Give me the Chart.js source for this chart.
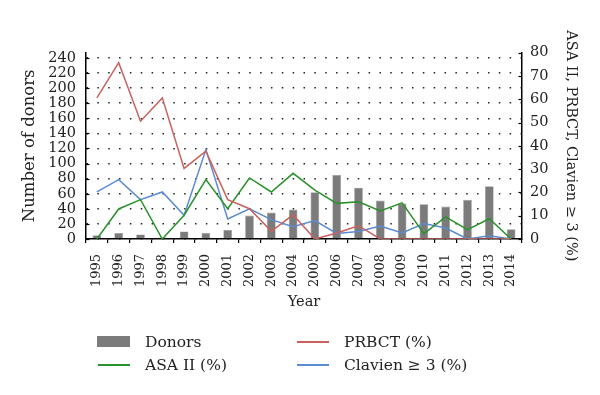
<!DOCTYPE html>
<html>
<head>
<meta charset="utf-8">
<script src="https://cdn.jsdelivr.net/npm/chart.js@4"></script>
<style>
  body { margin: 0; background: #fff; }
  #wrap { position: relative; width: 600px; height: 395px; }
  #legend { position: absolute; left: 0; top: 0; width: 600px; height: 395px; pointer-events: none;
            font-family: "DejaVu Serif", serif; font-size: 15.5px; color: #222; }
  .item { position: absolute; height: 20px; line-height: 20px; white-space: nowrap; }
  .sw { position: absolute; }
</style>
</head>
<body>
<div id="wrap">
  <canvas id="donorChart" width="600" height="395"></canvas>
  <div id="legend"></div>
</div>
<script>
const years = ['1995','1996','1997','1998','1999','2000','2001','2002','2003','2004',
               '2005','2006','2007','2008','2009','2010','2011','2012','2013','2014'];
const donors = [5, 8, 6, 2, 10, 8, 12, 31, 35, 39, 62, 85, 68, 51, 47, 46, 43, 52, 70, 13];
const prbct = [60.6, 75.7, 50.6, 60.6, 30.3, 37.7, 16.9, 13, 3.3, 10.4, 0, 2.6, 5.7, 0, 0, 0, 0, 0, 0, 0];
const asa2 = [0, 12.9, 16.9, 0, 10.2, 25.5, 13, 26.2, 20.2, 28.2, 21, 15.3, 16, 12, 15.5, 2.3, 9.5, 4, 8.7, 0];
const clavien = [20.2, 25.5, 16.9, 20.2, 10.2, 38.4, 8.6, 13, 8.3, 5.3, 7.9, 2.4, 3.2, 5.6, 2.6, 6.6, 4.7, 0, 1.4, 0];
const donorTicks = [0, 20, 40, 60, 80, 100, 120, 140, 160, 180, 200, 220, 240];
const pctTicksMax = 80;

const serif = "'DejaVu Serif', serif";

// short tick marks on the inner side of both value axes
const innerTicks = {
    id: 'innerTicks',
    afterDraw(chart) {
        const c = chart.ctx;
        c.save();
        c.strokeStyle = '#000';
        c.lineWidth = 1.2;
        const yl = chart.scales.y, yr = chart.scales.y1;
        yl.ticks.forEach(t => {
            const p = Math.round(yl.getPixelForValue(t.value)) + 0.5;
            c.beginPath(); c.moveTo(yl.right, p); c.lineTo(yl.right + 3.5, p); c.stroke();
        });
        yr.ticks.forEach(t => {
            const p = Math.round(yr.getPixelForValue(t.value)) + 0.5;
            c.beginPath(); c.moveTo(yr.left - 3.5, p); c.lineTo(yr.left, p); c.stroke();
        });
        c.restore();
    }
};

const lineSet = (label, data, color) => ({
    type: 'line', label: label, data: data, yAxisID: 'y1',
    borderColor: color, backgroundColor: color, borderWidth: 1.5,
    pointRadius: 0, tension: 0, fill: false, order: 1
});

const chart = new Chart(document.getElementById('donorChart'), {
    type: 'bar',
    data: {
        labels: years,
        datasets: [
            { label: 'Donors', data: donors, yAxisID: 'y', backgroundColor: '#7b7b7b',
              borderColor: '#9a9a9a', borderWidth: 0.6, barPercentage: 0.4, categoryPercentage: 1, order: 5 },
            lineSet('PRBCT (%)', prbct, '#c9605c'),
            lineSet('ASA II (%)', asa2, '#2a922a'),
            lineSet('Clavien \u2265 3 (%)', clavien, '#5b8bd0')
        ]
    },
    options: {
        responsive: false,
        animation: false,
        layout: { padding: { left: 20, right: 21, top: 52.7, bottom: 84.3 } },
        plugins: { legend: { display: false }, tooltip: { enabled: false } },
        scales: {
            x: {
                offset: true,
                grid: { offset: true, drawOnChartArea: false, drawTicks: true, tickLength: 4, color: '#000', lineWidth: 1.2 },
                border: { color: '#000', width: 1.5 },
                ticks: { autoSkip: false, minRotation: 90, maxRotation: 90, padding: 11, color: '#222',
                         font: { family: serif, size: 13 } },
                title: { display: true, text: 'Year', color: '#222', padding: 0, font: { family: serif, size: 14.5 } },
                afterFit: s => { s.height = 71.7; }
            },
            y: {
                position: 'left', min: 0, max: 247,
                afterBuildTicks: s => { s.ticks = donorTicks.map(v => ({ value: v })); },
                ticks: { autoSkip: false, padding: 10, color: '#222', font: { family: serif, size: 14.5 } },
                grid: { color: '#222', lineWidth: 1.5, drawTicks: false },
                border: { color: '#000', width: 1.5, dash: [1.5, 9.35] },
                title: { display: true, text: 'Number of donors', color: '#222', padding: 0, font: { family: serif, size: 16.5 } },
                afterFit: s => { s.width = 66; }
            },
            y1: {
                position: 'right', min: 0, max: pctTicksMax,
                ticks: { stepSize: 10, autoSkip: false, padding: 8, color: '#222', font: { family: serif, size: 14.5 } },
                grid: { drawOnChartArea: false, drawTicks: false },
                border: { color: '#000', width: 1.5 },
                title: { display: true, text: 'ASA II, PRBCT, Clavien \u2265 3 (%)', color: '#222', padding: 0, font: { family: serif, size: 14.5 } },
                afterFit: s => { s.width = 57; }
            }
        }
    },
    plugins: [innerTicks]
});

// two-column legend under the plot
const legendOrder = [0, 1, 2, 3];
const legendPos = [[97, 342], [296, 342], [97, 365], [296, 365]];
const legendEl = document.getElementById('legend');
legendOrder.forEach((di, k) => {
    const ds = chart.data.datasets[di];
    const [x, y] = legendPos[k];
    const sw = document.createElement('div');
    sw.className = 'sw';
    if (ds.type === 'line') {
        Object.assign(sw.style, { left: (x + 1) + 'px', top: (y - 1) + 'px', width: '32px', height: '2px', background: ds.borderColor });
    } else {
        Object.assign(sw.style, { left: x + 'px', top: (y - 6) + 'px', width: '33px', height: '11px', background: ds.backgroundColor });
    }
    legendEl.appendChild(sw);
    const tx = document.createElement('div');
    tx.className = 'item';
    tx.textContent = ds.label;
    Object.assign(tx.style, { left: (x + 48) + 'px', top: (y - 10) + 'px' });
    legendEl.appendChild(tx);
});
</script>
</body>
</html>
